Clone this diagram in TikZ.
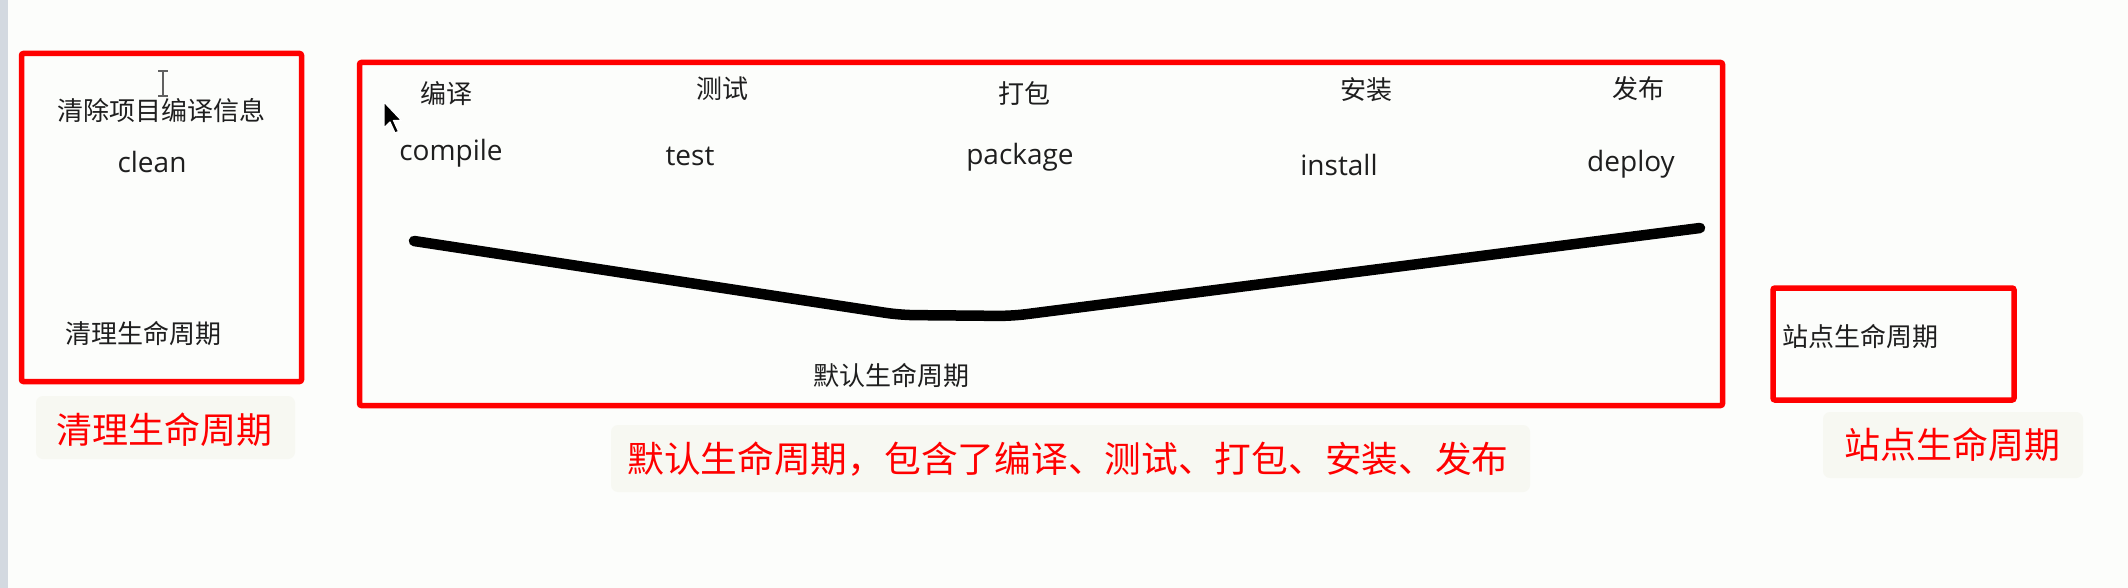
\documentclass[tikz,border=0pt]{standalone}
\usepackage{fontspec}
\setmainfont{Noto Sans CJK SC}
\newfontfamily\latinf{Open Sans}
\definecolor{bgc}{HTML}{FCFDFB}
\definecolor{stripc}{HTML}{D3D9E0}
\definecolor{txt}{HTML}{1E1E1E}
\definecolor{labbgc}{HTML}{F7F8F2}
\definecolor{pure}{HTML}{FF0000}
\tikzset{
  cjk/.style={inner sep=0pt, text=txt, font=\fontsize{26}{30}\selectfont},
  lat/.style={inner sep=0pt, anchor=base, text=txt, font=\latinf\fontsize{28}{32}\selectfont},
  redlab/.style={inner sep=0pt, text=pure, font=\fontsize{36}{40}\selectfont},
  labbg/.style={fill=labbgc, draw=none, rounded corners=7pt},
  redbox/.style={draw=pure, line width=5.5pt, rounded corners=2pt},
  curveline/.style={draw=black, line width=10.5pt, line cap=round, line join=round, rounded corners=14pt},
}
\begin{document}
\begin{tikzpicture}[x=1pt,y=-1pt]
\useasboundingbox (0,0) rectangle (2128,588);
\fill[bgc] (0,0) rectangle (2128,588);
\fill[stripc] (0,0) rectangle (8,588);

% label backgrounds
\fill[labbg] (36,396) rectangle (295,459);
\fill[labbg] (611,425) rectangle (1530,492);
\fill[labbg] (1823,412) rectangle (2083,478);

% boxes
\draw[redbox] (21.5,53.5) rectangle (301.5,381.5);
\draw[redbox] (359.5,62.5) rectangle (1722.5,405.5);
\draw[redbox] (1773,288) rectangle (2014,400);

% clean lifecycle
\node[cjk] (cleaninfo) at (161,111) {清除项目编译信息};
\node[lat] (clean) at (152,173) {clean};
\node[cjk] (cleanlc) at (143,334) {清理生命周期};
\node[redlab] (cleanlab) at (164,430) {清理生命周期};

% default lifecycle
\node[cjk] (zh1) at (446,94) {编译};
\node[cjk] (zh2) at (722,89) {测试};
\node[cjk] (zh3) at (1024,93) {打包};
\node[cjk] (zh4) at (1366,90) {安装};
\node[cjk] (zh5) at (1638,89) {发布};
\node[lat] (en1) at (451,161) {compile};
\node[lat] (en2) at (690,166) {test};
\node[lat] (en3) at (1020,165) {package};
\node[lat] (en4) at (1339,176) {install};
\node[lat] (en5) at (1631,172) {deploy};
\node[cjk] (deflc) at (891,376) {默认生命周期};
\node[redlab] (deflab) at (1068,459) {\scalebox{1.02}[1]{默认生命周期，包含了编译、测试、打包、安装、发布}};

% curve
\coordinate (c0) at (414,241);
\coordinate (c1) at (900,315);
\coordinate (c2) at (1012,316);
\coordinate (c3) at (1700,228);
\draw[curveline] (c0) -- (c1) -- (c2) -- (c3);

% site lifecycle
\node[cjk] (sitelc) at (1860,337) {站点生命周期};
\node[redlab] (sitelab) at (1952,445) {站点生命周期};

% mouse pointer
\coordinate (tip) at (384,102);
\filldraw[fill=black, draw=white, line width=1.2pt, line join=round]
  (tip) -- ++(0,26) -- ++(6,-6) -- ++(5,11) -- ++(3.5,-1.5) -- ++(-5,-11) -- ++(8,0) -- cycle;

% text cursor (I-beam)
\draw[txt!70, line width=1.5pt] (163,71) -- (163,96);
\draw[txt!70, line width=1.2pt] (158,71) -- (168,71);
\draw[txt!70, line width=1.2pt] (158,96) -- (168,96);
\end{tikzpicture}
\end{document}
